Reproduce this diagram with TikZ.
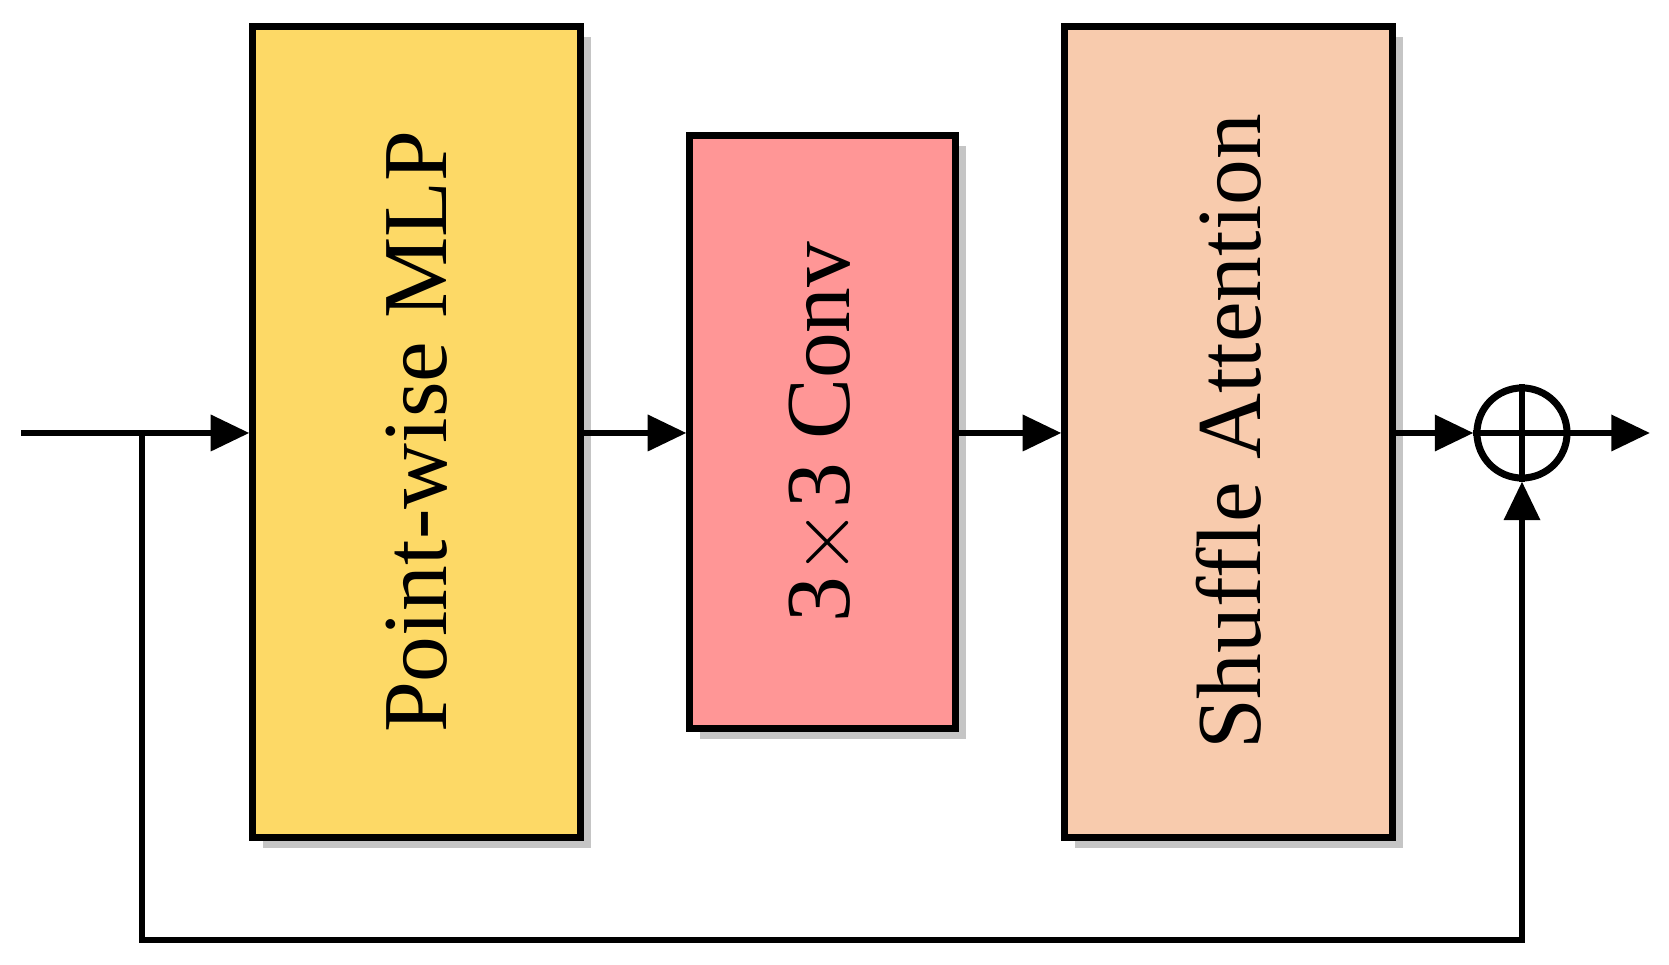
\documentclass[tikz,border=0pt]{standalone}
\usepackage{fontspec}
\setmainfont{Liberation Serif}
\usetikzlibrary{shadows,arrows.meta}
\begin{document}
\begin{tikzpicture}[x=0.01cm,y=-0.01cm,
  blk/.style={draw=black,line width=2pt,minimum width=#1,inner sep=0pt,
    drop shadow={shadow xshift=3pt,shadow yshift=-3pt,fill=black!45,opacity=0.5}},
  lbl/.style={rotate=90,font=\fontsize{26}{30}\selectfont},
  ln/.style={line width=1.8pt},
  arr/.style={ln,-{Triangle[length=11pt,width=10pt]}}]
\useasboundingbox (0,0) rectangle (1669,965);
\node[blk,fill={rgb,255:red,253;green,217;blue,102},minimum width=3.27cm,minimum height=8.10cm] (b1) at (416.5,432) {};
\node[lbl] at (b1) {Point-wise MLP};
\node[blk,fill={rgb,255:red,255;green,150;blue,150},minimum width=2.65cm,minimum height=5.92cm] (b2) at (822.5,432) {};
\node[lbl] at (b2) {3$\times$3 Conv};
\node[blk,fill={rgb,255:red,248;green,203;blue,173},minimum width=3.27cm,minimum height=8.10cm] (b3) at (1228.5,432) {};
\node[lbl] at (b3) {Shuffle Attention};
\node[circle,draw,line width=2pt,minimum size=0.9cm,inner sep=0pt] (s) at (1522,433) {};
\draw[ln] (s.north) -- (s.south) (s.west) -- (s.east);
\coordinate (in) at (21,433);
\coordinate (br) at (142,433);
\coordinate (out) at (1650,433);
\draw[arr] (in) -- (b1.west |- in);
\draw[arr] (b1.east |- in) -- (b2.west |- in);
\draw[arr] (b2.east |- in) -- (b3.west |- in);
\draw[arr] (b3.east |- in) -- (s.west);
\draw[arr] (s.east) -- (out);
\draw[arr] (br) -- (142,940) -- (1522,940) -- (s.south);
\end{tikzpicture}
\end{document}
